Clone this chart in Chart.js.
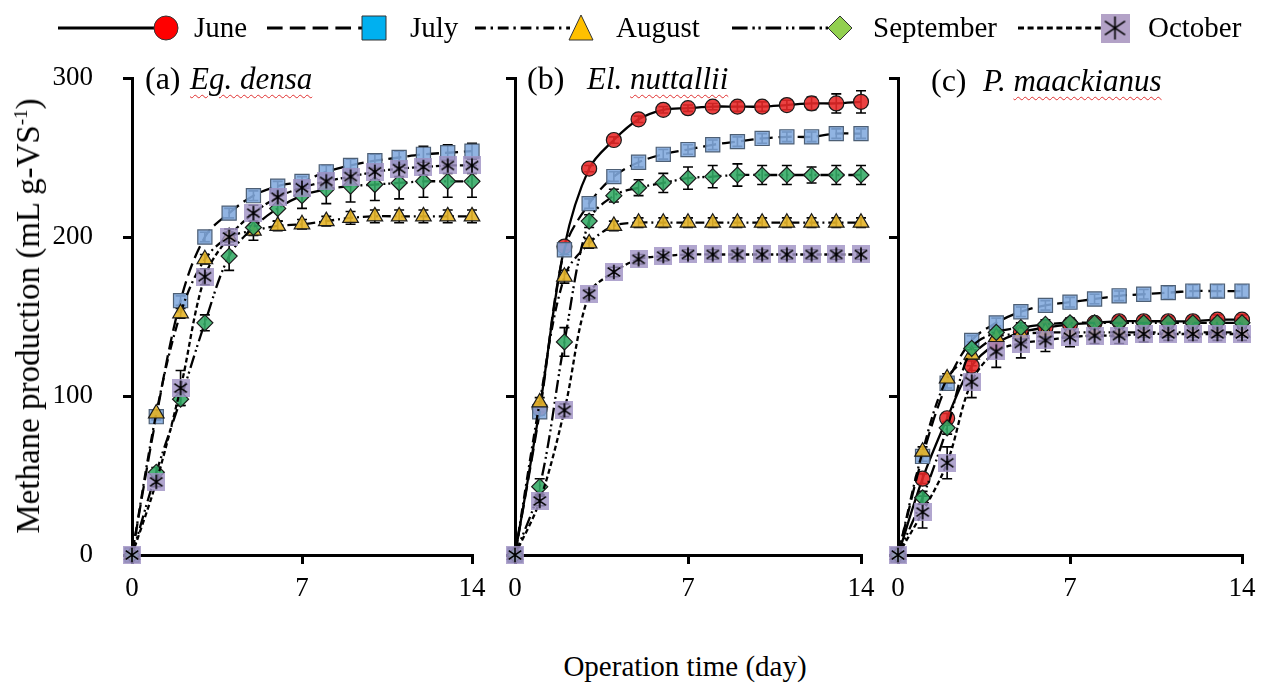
<!DOCTYPE html>
<html>
<head>
<meta charset="utf-8">
<script src="https://cdn.jsdelivr.net/npm/chart.js@4.4.1/dist/chart.umd.min.js"></script>
<style>
  body { margin: 0; width: 1269px; height: 693px; background: #fff; position: relative; overflow: hidden;
         font-family: "Liberation Serif", "Times New Roman", serif; color: #000; }
  canvas.panel { position: absolute; }
  .t { position: absolute; white-space: nowrap; line-height: 1; }
  .sp { font-style: italic; }
  .squig { text-decoration: underline wavy #e03030; text-decoration-thickness: 1px; text-underline-offset: 5px; }
</style>
</head>
<body>

<canvas id="legend" width="1269" height="56" style="position:absolute;left:0;top:0"></canvas>
<div id="legendText"></div>

<canvas id="panelA" class="panel" width="496" height="592" style="left:0;top:28px"></canvas>
<canvas id="panelB" class="panel" width="395" height="592" style="left:490px;top:28px"></canvas>
<canvas id="panelC" class="panel" width="389" height="592" style="left:880px;top:28px"></canvas>

<div class="t" style="left:145px;top:62px;font-size:32px">(a)</div>
<div class="t sp squig" style="left:190px;top:63px;font-size:31px">Eg. densa</div>
<div class="t" style="left:527px;top:62px;font-size:32px">(b)</div>
<div class="t sp" style="left:587px;top:63px;font-size:31px">El. <span class="squig">nuttallii</span></div>
<div class="t" style="left:931px;top:64px;font-size:32px">(c)</div>
<div class="t sp" style="left:983px;top:65px;font-size:31px">P. <span class="squig">maackianus</span></div>

<div class="t" style="left:685px;top:666px;font-size:29px;transform:translate(-50%,-50%)">Operation time (day)</div>
<div class="t" style="left:28px;top:316px;font-size:33px;transform:translate(-50%,-50%) rotate(-90deg)">Methane production (mL g-VS<sup style="font-size:19px">-1</sup>)</div>

<script>
const days = [0, 1, 2, 3, 4, 5, 6, 7, 8, 9, 10, 11, 12, 13, 14];
const months = ["June", "July", "August", "September", "October"];
const xTicks = [0, 7, 14];
const yTicks = [0, 100, 200, 300];

// (a) Eg. densa  (no June samples)
const julyA      = [0, 87, 160, 200, 215, 226, 232, 235, 241, 245, 248, 250, 252, 253, 254];
const julyAErr   = [0, 2, 3, 3, 3, 3, 3, 3, 4, 4, 4, 4, 5, 5, 5];
const augustA    = [0, 89, 152, 186, 200, 204, 207, 208, 210, 212, 213, 213, 213, 213, 213];
const augustAErr = [0, 2, 3, 3, 3, 3, 3, 3, 3, 4, 4, 4, 4, 4, 4];
const septA      = [0, 52, 98, 146, 188, 206, 218, 226, 230, 232, 233, 234, 235, 235, 235];
const septAErr   = [0, 3, 4, 5, 9, 8, 8, 8, 9, 10, 10, 10, 10, 10, 10];
const octA       = [0, 46, 105, 175, 200, 215, 225, 231, 235, 238, 241, 243, 244, 245, 245];
const octAErr    = [0, 3, 11, 5, 5, 5, 5, 5, 5, 5, 5, 5, 5, 5, 5];

// (b) El. nuttallii
const juneB      = [0, 92, 194, 243, 261, 274, 280, 281, 282, 282, 282, 283, 284, 284, 285];
const juneBErr   = [0, 2, 2, 2, 2, 2, 2, 2, 2, 3, 3, 3, 4, 6, 7];
const julyB      = [0, 90, 192, 221, 238, 247, 252, 255, 258, 260, 262, 263, 263, 265, 265];
const julyBErr   = [0, 2, 3, 3, 3, 3, 3, 3, 3, 3, 3, 3, 3, 3, 3];
const augustB    = [0, 96, 175, 196, 207, 209, 209, 209, 209, 209, 209, 209, 209, 209, 209];
const augustBErr = [0, 3, 4, 3, 3, 3, 3, 3, 3, 3, 3, 3, 3, 3, 3];
const septB      = [0, 43, 134, 210, 226, 231, 234, 237, 238, 239, 239, 239, 239, 239, 239];
const septBErr   = [0, 5, 9, 4, 4, 5, 6, 7, 7, 7, 6, 6, 5, 6, 6];
const octB       = [0, 34, 91, 164, 178, 186, 188, 189, 189, 189, 189, 189, 189, 189, 189];
const octBErr    = [0, 3, 4, 3, 3, 3, 3, 3, 3, 3, 3, 3, 3, 3, 3];

// (c) P. maackianus
const juneC      = [0, 48, 86, 119, 133, 140, 143, 145, 146, 147, 147, 147, 147, 148, 148];
const juneCErr   = [0, 3, 3, 3, 3, 3, 3, 3, 3, 3, 3, 3, 3, 3, 3];
const julyC      = [0, 62, 108, 135, 146, 153, 157, 159, 161, 163, 164, 165, 166, 166, 166];
const julyCErr   = [0, 3, 3, 3, 3, 3, 3, 3, 3, 3, 3, 4, 4, 4, 4];
const augustC    = [0, 65, 111, 126, 137, 139, 140, 140, 140, 140, 140, 140, 140, 140, 140];
const augustCErr = [0, 3, 3, 3, 3, 3, 3, 3, 3, 3, 3, 3, 3, 3, 3];
const septC      = [0, 36, 80, 130, 140, 143, 145, 146, 146, 146, 146, 146, 146, 146, 146];
const septCErr   = [0, 4, 4, 4, 4, 3, 3, 3, 3, 3, 3, 3, 3, 3, 3];
const octC       = [0, 27, 58, 109, 128, 133, 135, 137, 138, 138, 139, 139, 139, 139, 139];
const octCErr    = [0, 10, 10, 10, 10, 9, 7, 6, 5, 5, 5, 4, 4, 4, 4];

const FONT = '"Liberation Serif", "Times New Roman", serif';

// October marker: lilac square with a black asterisk
function asteriskMark(size, fill) {
  const c = document.createElement("canvas");
  c.width = size; c.height = size;
  const g = c.getContext("2d");
  g.fillStyle = fill;
  g.fillRect(0, 0, size, size);
  g.strokeStyle = "#000";
  g.lineWidth = 1.6;
  const m = size / 2, r = size * 0.4;
  g.beginPath();
  g.moveTo(m, m - r); g.lineTo(m, m + r);
  g.moveTo(m - r * 0.87, m - r * 0.6); g.lineTo(m + r * 0.87, m + r * 0.6);
  g.moveTo(m + r * 0.87, m - r * 0.6); g.lineTo(m - r * 0.87, m + r * 0.6);
  g.stroke();
  return c;
}

const looks = {
  June:      { style: "circle",   radius: 7.5, fill: "rgba(232,40,40,0.88)",   stroke: "#1a1a1a", dash: [],                 order: 5 },
  July:      { style: "rect",     radius: 10,  fill: "rgba(130,170,222,0.88)", stroke: "#4d5f75", dash: [13, 6],            order: 4 },
  August:    { style: "triangle", radius: 9,   fill: "rgba(228,180,40,0.9)",   stroke: "#1a1a1a", dash: [9, 4, 2, 4],       order: 3 },
  September: { style: "rectRot",  radius: 8,   fill: "rgba(50,170,100,0.88)",  stroke: "#1a1a1a", dash: [13, 4, 2, 3, 2, 4], order: 2 },
  October:   { style: asteriskMark(18, "rgba(160,146,196,0.82)"), radius: 9, fill: "transparent", stroke: "transparent", dash: [5, 3], order: 1 }
};

const errorBars = {
  id: "errorBars",
  beforeDatasetsDraw(chart) {
    const { ctx, scales: { x, y } } = chart;
    ctx.save();
    ctx.strokeStyle = "#000";
    ctx.lineWidth = 1.6;
    chart.data.datasets.forEach(ds => {
      ds.data.forEach((p, i) => {
        const e = ds.err[i];
        if (!e) return;
        const px = x.getPixelForValue(p.x);
        const top = y.getPixelForValue(p.y + e);
        const bot = y.getPixelForValue(p.y - e);
        ctx.beginPath();
        ctx.moveTo(px, top); ctx.lineTo(px, bot);
        ctx.moveTo(px - 5, top); ctx.lineTo(px + 5, top);
        ctx.moveTo(px - 5, bot); ctx.lineTo(px + 5, bot);
        ctx.stroke();
      });
    });
    ctx.restore();
  }
};

function makeSet(name, vals, err) {
  const l = looks[name];
  return {
    label: name,
    data: vals.map((v, i) => ({ x: days[i], y: v })),
    err: err,
    borderColor: "#000",
    borderWidth: 2.3,
    borderDash: l.dash,
    tension: 0.35,
    pointStyle: l.style,
    pointRadius: l.radius,
    pointBackgroundColor: l.fill,
    pointBorderColor: l.stroke,
    pointBorderWidth: 1.2,
    order: l.order,
    clip: false
  };
}

function drawPanel(id, sets, yAxisWidth, padRight, showYLabels) {
  new Chart(document.getElementById(id), {
    type: "line",
    data: { datasets: sets },
    options: {
      responsive: false,
      animation: false,
      layout: { padding: { top: 50, right: padRight, left: 0, bottom: 0 } },
      plugins: { legend: { display: false }, tooltip: { enabled: false } },
      scales: {
        x: {
          type: "linear", min: 0, max: 14,
          afterBuildTicks: s => { s.ticks = xTicks.map(v => ({ value: v })); },
          ticks: { color: "#000", font: { family: FONT, size: 27 }, padding: 9, maxRotation: 0 },
          grid: { drawOnChartArea: false, color: "#000", lineWidth: 3, tickLength: 9 },
          border: { color: "#000", width: 3 },
          afterFit: s => { s.height = 65; }
        },
        y: {
          min: 0, max: 300,
          afterBuildTicks: s => { s.ticks = yTicks.map(v => ({ value: v })); },
          ticks: { color: "#000", font: { family: FONT, size: 27 }, padding: 30,
                   callback: v => showYLabels ? v : "" },
          grid: { drawOnChartArea: false, color: "#000", lineWidth: 3, tickLength: 9 },
          border: { color: "#000", width: 3 },
          afterFit: s => { s.width = yAxisWidth; }
        }
      }
    },
    plugins: [errorBars]
  });
}

drawPanel("panelA", [
  makeSet("July", julyA, julyAErr),
  makeSet("August", augustA, augustAErr),
  makeSet("September", septA, septAErr),
  makeSet("October", octA, octAErr)
], 132, 24, true);

drawPanel("panelB", [
  makeSet("June", juneB, juneBErr),
  makeSet("July", julyB, julyBErr),
  makeSet("August", augustB, augustBErr),
  makeSet("September", septB, septBErr),
  makeSet("October", octB, octBErr)
], 25, 24, false);

drawPanel("panelC", [
  makeSet("June", juneC, juneCErr),
  makeSet("July", julyC, julyCErr),
  makeSet("August", augustC, augustCErr),
  makeSet("September", septC, septCErr),
  makeSet("October", octC, octCErr)
], 18, 27, false);

// legend across the top
const legendSlots = [
  { x0: 58,   x1: 155,  mx: 166,  tx: 194,  fill: "#ff0000", kind: "circle" },
  { x0: 267,  x1: 362,  mx: 374,  tx: 410,  fill: "#00b0f0", kind: "square" },
  { x0: 475,  x1: 570,  mx: 581,  tx: 616,  fill: "#ffc000", kind: "triangle" },
  { x0: 732,  x1: 830,  mx: 840,  tx: 873,  fill: "#92d050", kind: "diamond" },
  { x0: 1018, x1: 1102, mx: 1115, tx: 1148, fill: "#b3a2c7", kind: "asterisk" }
];
const lg = document.getElementById("legend").getContext("2d");
const ly = 28;
legendSlots.forEach((s, i) => {
  const name = months[i];
  lg.save();
  lg.strokeStyle = "#000";
  lg.lineWidth = 3;
  lg.setLineDash(looks[name].dash.map(d => d * 1.2));
  lg.beginPath(); lg.moveTo(s.x0, ly); lg.lineTo(s.x1, ly); lg.stroke();
  lg.restore();
  lg.fillStyle = s.fill;
  lg.strokeStyle = "#333";
  lg.lineWidth = 1;
  const h = 12;
  lg.beginPath();
  if (s.kind === "circle") lg.arc(s.mx, ly, h, 0, Math.PI * 2);
  if (s.kind === "square") lg.rect(s.mx - h, ly - h, 2 * h, 2 * h);
  if (s.kind === "triangle") { lg.moveTo(s.mx, ly - h - 1); lg.lineTo(s.mx + h, ly + h); lg.lineTo(s.mx - h, ly + h); lg.closePath(); }
  if (s.kind === "diamond") { lg.moveTo(s.mx, ly - h); lg.lineTo(s.mx + h, ly); lg.lineTo(s.mx, ly + h); lg.lineTo(s.mx - h, ly); lg.closePath(); }
  if (s.kind === "asterisk") {
    lg.drawImage(asteriskMark(29, s.fill), s.mx - 14.5, ly - 14.5);
  } else {
    lg.fill(); lg.stroke();
  }
  const d = document.createElement("div");
  d.className = "t";
  d.style.left = s.tx + "px";
  d.style.top = (ly - 15) + "px";
  d.style.fontSize = "29px";
  d.textContent = name;
  document.getElementById("legendText").appendChild(d);
});
</script>
</body>
</html>
